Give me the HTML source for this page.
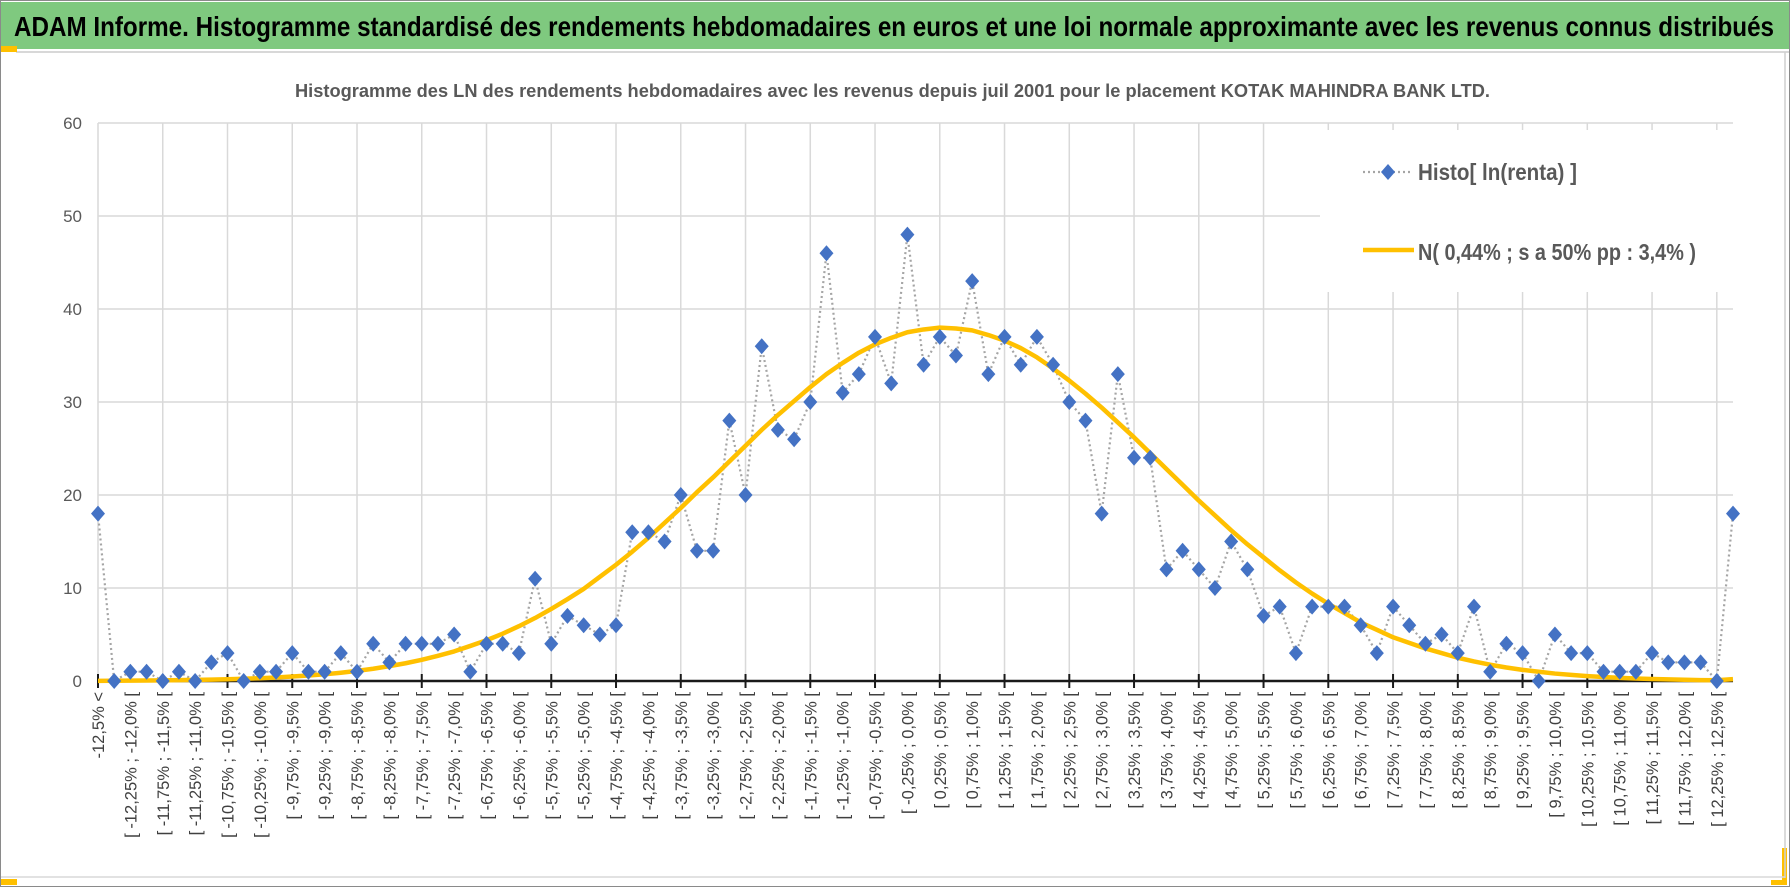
<!DOCTYPE html>
<html><head><meta charset="utf-8"><style>
html,body{margin:0;padding:0;background:#fff;}
svg{display:block;font-family:"Liberation Sans",sans-serif;}
</style></head><body>
<svg id="chart" width="1790" height="887" viewBox="0 0 1790 887" xmlns="http://www.w3.org/2000/svg">
<rect x="0" y="0" width="1790" height="887" fill="#fff"/>
<rect x="0.5" y="0.5" width="1789" height="886" fill="none" stroke="#8a8a8a" stroke-width="1"/>
<rect x="1" y="2" width="1788" height="47" fill="#7fc97f"/>
<line x1="16" y1="52" x2="1789" y2="52" stroke="#d8d8d8" stroke-width="2"/>
<rect x="1" y="46" width="16" height="6" fill="#ffc000"/>
<rect x="1" y="879" width="16" height="6" fill="#ffc000"/>
<rect x="1771" y="880" width="16" height="5" fill="#ffc000"/>
<rect x="1782" y="848" width="5" height="37" fill="#ffc000"/>
<line x1="1785" y1="52" x2="1785" y2="878" stroke="#cfcfcf" stroke-width="1.5"/>
<line x1="1" y1="877" x2="1785" y2="877" stroke="#d8d8d8" stroke-width="1.5"/>
<text x="14" y="36" font-size="28" font-weight="bold" fill="#000" textLength="1760" lengthAdjust="spacingAndGlyphs">ADAM Informe. Histogramme standardisé des rendements hebdomadaires en euros et une loi normale approximante avec les revenus connus distribués</text>
<text x="295" y="97" font-size="18" font-weight="bold" fill="#595959" textLength="1195" lengthAdjust="spacingAndGlyphs">Histogramme  des LN des rendements hebdomadaires avec les revenus depuis juil 2001 pour le placement KOTAK MAHINDRA BANK LTD.</text>
<g id="grid"></g>
<g id="xaxis"></g>
<g id="yaxis"></g>
<g id="series"></g>
<g id="legend"></g>
</svg>
<script>
const histValues = [18,0,1,1,0,1,0,2,3,0,1,1,3,1,1,3,1,4,2,4,4,4,5,1,4,4,3,11,4,7,6,5,6,16,16,15,20,14,14,28,20,36,27,26,30,46,31,33,37,32,48,34,37,35,43,33,37,34,37,34,30,28,18,33,24,24,12,14,12,10,15,12,7,8,3,8,8,8,6,3,8,6,4,5,3,8,1,4,3,0,5,3,3,1,1,1,3,2,2,2,0,18];
const normalValues = [0.02,0.03,0.04,0.05,0.07,0.09,0.12,0.15,0.19,0.24,0.3,0.38,0.48,0.59,0.72,0.89,1.09,1.32,1.6,1.91,2.28,2.71,3.18,3.77,4.38,5.09,5.89,6.77,7.75,8.8,9.9,11.2,12.5,13.9,15.4,17,18.6,20.3,21.9,23.6,25.3,27,28.6,30.1,31.6,33,34.2,35.3,36.2,36.9,37.5,37.8,38,37.9,37.7,37.2,36.6,35.8,34.8,33.6,32.3,30.9,29.4,27.8,26.2,24.5,22.8,21.1,19.4,17.8,16.2,14.7,13.3,11.9,10.6,9.4,8.3,7.3,6.3,5.5,4.7,4.1,3.5,3,2.5,2.1,1.75,1.45,1.2,0.99,0.8,0.66,0.53,0.43,0.34,0.27,0.22,0.17,0.13,0.1,0.08,0.2];
const yTicks = [0,10,20,30,40,50,60];
const binLowers = [];
for (let i = 1; i <= 100; i++) binLowers.push(-12.5 + 0.25*(i-1));
const categories = ["-12,5% <"];
binLowers.forEach(lo => {
  const f2 = v => v.toFixed(2).replace('.', ',');
  const f1 = v => v.toFixed(1).replace('.', ',');
  const hi = lo + 0.25;
  const loS = (Math.abs(lo*100)%50===0) ? f1(lo) : f2(lo);
  const hiS = (Math.abs(hi*100)%50===0) ? f1(hi) : f2(hi);
  categories.push("[ " + loS + "% ; " + hiS + "% [");
});
categories.push("> 12,5%");

const NS = "http://www.w3.org/2000/svg";
const X0 = 98, X1 = 1733, Y0 = 681, Y60 = 123;
const n = categories.length;
const xScale = i => X0 + (X1 - X0) * i / (n - 1);
const yScale = v => Y0 - (Y0 - Y60) * v / 60;
function mk(tag, attrs, parent){ const e=document.createElementNS(NS,tag); for(const k in attrs) e.setAttribute(k,attrs[k]); parent.appendChild(e); return e; }

const grid = document.getElementById('grid');
yTicks.forEach(t => {
  if (t === 0) return;
  const l = mk('line',{x1:X0,x2:X1,y1:yScale(t),y2:yScale(t),stroke:'#d9d9d9','stroke-width':1.5},grid);
  
  
});
for (let i = 0; i < n; i += 4) {
  const l = mk('line',{x1:xScale(i),x2:xScale(i),y1:Y60,y2:Y0,stroke:'#d9d9d9','stroke-width':1.5},grid);
  
  
}

const yaxis = document.getElementById('yaxis');
yTicks.forEach(t => {
  const tx = mk('text',{x:82,y:yScale(t)+6,'text-anchor':'end','font-size':17,fill:'#595959'},yaxis);
  tx.textContent = t;
  
  
});

const xaxis = document.getElementById('xaxis');
const ax = mk('line',{x1:X0,x2:X1,y1:Y0,y2:Y0,stroke:'#1a1a1a','stroke-width':2.5},xaxis);


for (let i = 0; i < n; i += 4) {
  const tk = mk('line',{x1:xScale(i),x2:xScale(i),y1:Y0-7,y2:Y0+7,stroke:'#1a1a1a','stroke-width':2},xaxis);
  
  
}
for (let i = 0; i <= 100; i += 2) {
  const x = xScale(i) + 6, y = 692;
  const tx = mk('text',{x:x,y:y,'text-anchor':'end','font-size':16.5,fill:'#404040',transform:`rotate(-90 ${x} ${y})`},xaxis);
  tx.textContent = categories[i];
  
  
}

const series = document.getElementById('series');
const hp = histValues.map((v,i)=>xScale(i)+','+yScale(v)).join(' ');
const hl = mk('polyline',{points:hp,fill:'none',stroke:'#a5a5a5','stroke-width':2.2,'stroke-dasharray':'2 3'},series);


const np = normalValues.map((v,i)=>xScale(i)+','+yScale(v)).join(' ');
const nl = mk('polyline',{points:np,fill:'none',stroke:'#ffc000','stroke-width':4.5,'stroke-linejoin':'round'},series);


histValues.forEach((v,i)=>{
  const x=xScale(i), y=yScale(v);
  const d = mk('polygon',{points:`${x},${y-8} ${x+7},${y} ${x},${y+8} ${x-7},${y}`,fill:'#4472c4'},series);
  
  
});

const legend = document.getElementById('legend');
const bg = mk('rect',{x:1320,y:130,width:420,height:162,fill:'#fff'},legend);


const l1 = mk('line',{x1:1363,x2:1412,y1:172,y2:172,stroke:'#a5a5a5','stroke-width':2.2,'stroke-dasharray':'2 3'},legend);


const ld = mk('polygon',{points:'1388,164 1395,172 1388,180 1381,172',fill:'#4472c4'},legend);


const t1 = mk('text',{x:1418,y:180,'font-size':23,'font-weight':'bold',fill:'#595959',textLength:159,lengthAdjust:'spacingAndGlyphs'},legend);
t1.textContent = 'Histo[ ln(renta) ]';


const l2 = mk('line',{x1:1363,x2:1414,y1:250,y2:250,stroke:'#ffc000','stroke-width':4.5},legend);


const t2 = mk('text',{x:1418,y:260,'font-size':23,'font-weight':'bold',fill:'#595959',textLength:278,lengthAdjust:'spacingAndGlyphs'},legend);
t2.textContent = 'N( 0,44% ; s a 50% pp : 3,4% )';


</script>
</body></html>
